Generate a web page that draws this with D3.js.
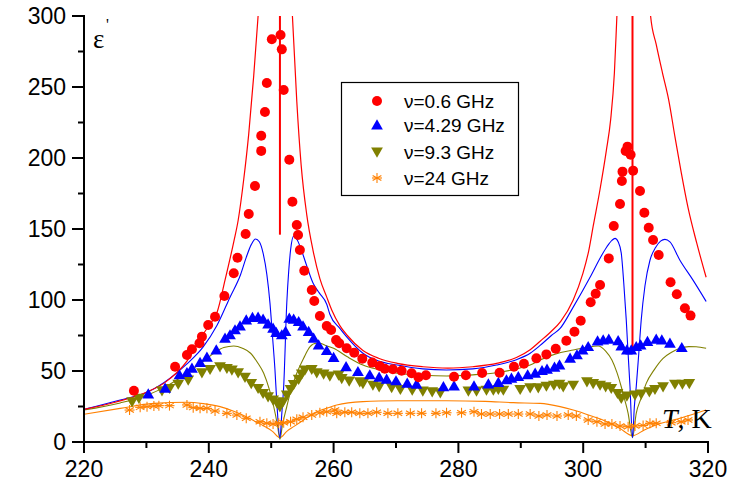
<!DOCTYPE html>
<html><head><meta charset="utf-8">
<script src="https://cdn.jsdelivr.net/npm/d3@7"></script>
<style>body{margin:0;background:#fff}svg{display:block}</style>
</head><body>
<script>
// ---- data ----
const xTicks = [220, 240, 260, 280, 300, 320];
const yTicks = [0, 50, 100, 150, 200, 250, 300];
const seriesNames = ["ν=0.6 GHz", "ν=4.29 GHz", "ν=9.3 GHz", "ν=24 GHz"];

const red06 = [[228.0,36.1],[234.6,53],[236.5,61.3],[237.3,65.3],[238.5,69.5],[238.9,74.2],[239.9,82.4],[241.0,88.2],[242.5,102.8],[244.0,118.8],[244.6,129.8],[245.9,146.5],[246.4,160.6],[247.4,180.3],[248.4,205],[248.4,215.7],[249.0,232.4],[249.3,252.8],[250.1,283.6],[251.5,286.6],[251.7,276.5],[252.0,247.9],[252.9,198.8],[253.4,169.2],[254.1,152.8],[254.3,145.8],[254.6,135.2],[255.3,120.6],[256.5,107],[256.9,99.3],[257.8,88.7],[258.9,81.7],[259.6,78.9],[260.4,71.8],[260.9,69.5],[262.1,66],[263.3,62.9],[264.6,58.7],[266.2,55.9],[267.4,53.5],[268.2,51.6],[269.5,51.2],[270.9,50.2],[272.5,48.4],[273.6,45.6],[274.8,47],[279.3,46],[281.2,47],[283.8,48.6],[286.6,48.8],[288.9,53],[290.5,55.1],[292.5,58.9],[294.1,61.7],[295.6,65.7],[297.3,71.3],[298.6,77.7],[299.6,85.4],[301.2,98.4],[302.0,104.4],[302.7,110.6],[304.1,129.3],[304.9,152.1],[305.9,167.6],[306.2,183.8],[306.3,190.4],[306.8,204.9],[307.1,208],[307.6,202.3],[308.0,191.1],[309.1,176.8],[309.8,161.5],[310.5,150.9],[311.2,142.3],[312.1,131.7],[314.0,112.5],[315.0,104],[316.3,94.2],[317.2,89]];

const blue429 = [[230.3,33.8],[233.0,37.8],[235.3,47.2],[236.5,48.8],[237.3,51.9],[238.6,55.9],[239.7,59.6],[241.2,64.8],[242.6,73],[243.4,75.4],[244.2,78.9],[245.0,81.7],[246.0,85.9],[247.0,87.6],[247.9,87.8],[248.7,86.4],[249.5,83.1],[250.3,80],[250.8,77],[251.7,75.4],[252.3,77.7],[252.9,87.1],[253.6,86.4],[254.4,84.7],[255.1,81.7],[256.0,77.7],[256.8,73],[257.6,68.3],[258.9,64.3],[260.0,59.5],[262.0,53],[263.9,49.5],[265.8,47.2],[267.3,45.6],[268.5,44.2],[270.0,43],[271.8,41.3],[273.3,40.6],[277.6,38.9],[279.3,39.4],[282.5,39.4],[284.8,40.8],[286.4,41.8],[287.7,43.7],[288.5,44.8],[289.6,46],[291.1,47.2],[292.3,48.4],[293.4,50.2],[294.2,51.2],[295.4,52.6],[296.2,54.2],[297.9,58.9],[299.0,61.3],[299.9,64.8],[300.8,67.1],[302.3,71.1],[303.2,71.8],[304.1,72.3],[305.6,71.3],[306.1,67.6],[307.0,64.8],[307.7,64.8],[308.5,67.1],[309.2,68.3],[310.3,70.7],[311.7,72.3],[312.6,71.8],[313.9,69.5],[315.8,66.4]];

const olive93 = [[227.7,28.4],[228.8,30.8],[232.5,36.1],[233.7,37.8],[235.1,40.8],[236.7,43.7],[238.9,48.8],[240.2,51.2],[241.8,53],[242.9,51.9],[243.7,50.7],[244.7,48.8],[245.8,45.6],[246.8,41.3],[247.9,37.8],[248.7,34.3],[249.5,31.9],[250.3,29.6],[250.9,27.7],[251.4,24.9],[251.9,28.4],[252.5,33.1],[253.1,37.1],[253.6,40.6],[254.4,44.2],[254.9,47.9],[255.4,50.7],[256.5,51.2],[257.3,48.8],[258.4,47.9],[259.4,46.5],[260.8,47.2],[261.3,44.8],[262.5,43],[264.2,42.5],[264.7,41.3],[266.3,40.1],[267.3,38.9],[269.3,38.5],[270.7,37.1],[272.6,36.6],[274.3,35.9],[275.8,35.4],[277.1,34.7],[281.6,35.9],[282.9,35.9],[284.5,36.6],[285.6,36.6],[286.4,37.1],[287.2,36.6],[289.9,37.1],[291.5,38.2],[292.8,38.2],[294.1,39.4],[295.3,40.1],[296.2,40.8],[296.8,38.9],[298.4,40.1],[300.6,42.5],[301.6,41.3],[302.7,40.1],[303.6,38.9],[304.5,37.8],[305.5,34.3],[306.1,30.8],[307.0,32.4],[308.3,33.1],[309.3,33.8],[310.6,35.4],[311.5,37.1],[312.8,38.9],[314.7,40.8],[315.9,40.8],[317.0,41.3]];

const orange24 = [[227.3,22.5],[229.0,24.4],[230.1,24.9],[231.2,25.4],[232.0,25.6],[233.7,25.6],[236.5,26.1],[237.5,24.2],[238.6,23.7],[239.7,23.7],[241.0,21.8],[242.9,20.2],[244.5,19],[246.0,16.7],[248.2,14.3],[249.3,13.2],[250.3,12.7],[251.2,13.2],[252.0,13.6],[253.1,14.3],[254.1,16],[255.1,17.4],[256.5,19],[257.8,20.6],[258.9,21.3],[260.2,22.5],[260.5,20.2],[261.8,20.9],[262.9,20.9],[264.2,20.2],[265.5,20.2],[266.9,20.9],[268.7,20.2],[270.3,20.2],[272.3,20.2],[274.1,20.2],[276.4,20.2],[278.1,20.6],[280.5,20.6],[282.5,21.3],[283.7,19.7],[285.1,19.7],[286.6,19.7],[288.0,19.7],[289.6,19.7],[291.5,19.7],[292.9,18.3],[294.2,19],[295.8,18.3],[297.6,19],[298.9,18.3],[300.8,15.5],[302.2,14.3],[303.5,12.7],[304.6,12.7],[305.9,11.3],[307.2,10.8],[308.3,11.3],[309.6,11.7],[310.7,13.2],[311.7,13.2],[314.1,13.6],[315.7,14.3],[316.8,15.5]];

// theory curves
const redFitLeft = [[220,23],[225,28],[230,35],[233,42],[236.5,57],[239.1,76],[240.2,83],[241.3,91],[242.6,114],[244.0,141],[244.7,156],[245.6,185],[246.4,217],[247.2,258],[247.9,300],[248.2,320]];
const redFitMid = [[253.2,320],[253.4,300],[254.1,240],[254.8,195],[255.7,160],[256.7,135],[257.8,115],[258.9,102],[259.7,93],[261.0,82],[262.2,75],[264.7,64.5],[267.2,59],[270.2,55.4],[274.3,53],[278.3,52],[282.3,53],[286.3,55.5],[289.3,59.5],[291.5,65],[293.1,71],[294.9,78],[296.4,85],[298.4,100],[299.9,118],[300.9,135],[301.6,152],[302.7,178],[303.7,205],[304.4,227],[305.0,260],[305.4,300],[305.6,320]];
const redFitRight = [[310.6,320],[310.8,300],[311.7,280],[312.7,260],[313.7,241],[314.7,215],[315.7,190],[316.8,165],[318.2,140],[319.7,116]];
const redVerticals = [[251.4,146,300],[307.9,65,300]];
const blueFit = [[220,23],[225.8,29.6],[230.1,35],[233.8,45],[236.5,55],[239.1,67],[241.3,82],[243.4,102],[245.1,118],[246.0,130],[246.8,139],[247.5,143],[248.1,141],[248.7,133],[249.3,118],[249.8,98],[250.2,75],[250.6,51],[250.9,28],[251.4,3],[251.7,20],[252.0,39],[252.5,98],[252.8,120],[253.1,135],[253.6,145],[254.2,142],[254.6,138],[255.7,124],[256.7,112],[257.7,105],[258.9,97],[259.4,90],[261.0,80],[262.1,74],[264.7,62.5],[267.2,57],[270.2,54.2],[274.3,51.5],[278.1,50.7],[282.3,51.5],[286.1,54.2],[289.3,58],[291.5,62.5],[293.1,68],[294.9,75],[296.3,80],[298.4,95],[301.1,116],[302.9,131],[303.8,137.5],[304.6,142],[305.1,143.4],[305.6,141],[306.1,133],[306.5,112],[306.9,86],[307.2,62],[307.5,39],[307.9,3],[308.2,25],[308.5,39],[308.9,62],[309.3,86],[309.9,110],[310.7,128],[311.6,137],[312.4,141.5],[313.1,142.7],[313.9,141],[315.5,128],[317.6,114],[319.7,99]];
const oliveFit = [[220,22.5],[225.8,27.5],[230.1,33],[233.1,39],[236.5,48.4],[238.6,55],[240.8,62.5],[242.4,66.5],[244.0,67.6],[245.4,66],[246.7,62.5],[247.8,56],[248.8,48.4],[249.7,37],[250.4,25],[251.0,12],[251.4,2],[251.8,12],[252.5,25],[253.2,37],[254.1,48.4],[255.2,59],[256.2,67],[257.2,69.5],[257.8,69.5],[258.7,68],[260.0,66],[262.2,60],[264.7,54.2],[267.2,51],[270.2,48.4],[274.3,47],[278.1,46.5],[282.3,47.3],[286.1,48.8],[289.3,51.5],[291.5,54.2],[293.1,57.7],[294.9,61],[296.4,63],[298.4,64.8],[300.4,66.5],[302.4,67.6],[303.6,64],[304.6,57.7],[305.4,49],[306.1,38.9],[306.7,29],[307.2,20.2],[307.9,3],[308.5,20.2],[309.3,31],[310.1,41.3],[311.4,51],[312.8,58.9],[314.1,63],[315.5,66],[316.9,67.2],[318.1,67.1],[319.7,66]];
const orangeFit = [[220,19.5],[225.8,23.7],[231.2,27.2],[236.5,28],[239.1,27],[241.8,24.9],[244.1,21.5],[246.0,17.8],[247.4,14.5],[248.8,11.3],[250.2,7.5],[251.4,3],[252.5,7.5],[253.6,10.8],[255.2,15.5],[256.8,20.2],[258.7,23.5],[260.5,26.1],[264.7,28.4],[270.2,29],[278.1,29.1],[284.3,28.6],[288.8,27.7],[293.1,27.2],[296.3,24.9],[298.4,22.5],[301.2,18.5],[303.8,14.3],[305.9,9.5],[307.9,4.5],[309.8,8.5],[311.7,12],[313.6,14.5],[315.5,16.7],[317.6,19.5],[319.7,22.5]];

// ---- drawing ----
const W = 738, H = 490;
const C = {red:"#ff0000", blue:"#0000ff", olive:"#808000", orange:"#ff8000"};
const x = d3.scaleLinear().domain([220,320]).range([84,708]);
const y = d3.scaleLinear().domain([0,300]).range([442,16]);

const svg = d3.select("body").append("svg").attr("width",W).attr("height",H);
svg.append("defs").append("clipPath").attr("id","clip")
  .append("rect").attr("x",84).attr("y",16).attr("width",630).attr("height",426);

const plot = svg.append("g").attr("clip-path","url(#clip)");
const line = d3.line().x(d=>x(d[0])).y(d=>y(d[1])).curve(d3.curveMonotoneX);

function fit(data,color,w){
  plot.append("path").datum(data).attr("d",line).attr("fill","none")
    .attr("stroke",color).attr("stroke-width",w);
}
fit(orangeFit,C.orange,1.1);
fit(oliveFit,C.olive,1.1);
fit(blueFit,C.blue,1.1);
fit(redFitLeft,C.red,1.2);
fit(redFitMid,C.red,1.2);
fit(redFitRight,C.red,1.2);
plot.selectAll("line.vert").data(redVerticals).join("line").attr("class","vert")
  .attr("x1",d=>x(d[0])).attr("x2",d=>x(d[0])).attr("y1",d=>y(d[1])).attr("y2",d=>y(d[2]))
  .attr("stroke",C.red).attr("stroke-width",2);

const triUp = d3.symbol().type(d3.symbolTriangle).size(60)();
function asterisk(g,r,color){
  const a = [[0,-r,0,r],[-r*0.87,-r*0.5,r*0.87,r*0.5],[-r*0.87,r*0.5,r*0.87,-r*0.5],[-r,0,r,0]];
  a.forEach(s=>g.append("line").attr("x1",s[0]).attr("y1",s[1]).attr("x2",s[2]).attr("y2",s[3])
    .attr("stroke",color).attr("stroke-width",1.1));
}
function drawAst(data){
  const gs = svg.append("g").selectAll("g").data(data).join("g")
    .attr("transform",d=>`translate(${x(d[0])},${y(d[1])})`);
  gs.each(function(){ asterisk(d3.select(this),5,C.orange); });
}
drawAst(orange24);
svg.append("g").selectAll("path").data(olive93).join("path").attr("d",triUp)
  .attr("transform",d=>`translate(${x(d[0])},${y(d[1])-1}) rotate(180)`).attr("fill",C.olive);
svg.append("g").selectAll("path").data(blue429).join("path").attr("d",triUp)
  .attr("transform",d=>`translate(${x(d[0])},${y(d[1])+1})`).attr("fill",C.blue);
svg.append("g").selectAll("circle").data(red06).join("circle")
  .attr("cx",d=>x(d[0])).attr("cy",d=>y(d[1])).attr("r",5).attr("fill",C.red);

// axes
const ax = svg.append("g").attr("stroke","#000").attr("stroke-width",2);
ax.append("line").attr("x1",84).attr("x2",x(320)+1).attr("y1",442).attr("y2",442);
ax.append("line").attr("x1",84).attr("x2",84).attr("y1",y(300)-1).attr("y2",443);
const xMinor = d3.range(230,320,20);
ax.selectAll("line.xt").data(xTicks).join("line").attr("class","xt")
  .attr("x1",d=>x(d)).attr("x2",d=>x(d)).attr("y1",442).attr("y2",453);
ax.selectAll("line.xm").data(xMinor).join("line").attr("class","xm")
  .attr("x1",d=>x(d)).attr("x2",d=>x(d)).attr("y1",442).attr("y2",448);
const yMinor = d3.range(25,300,50);
ax.selectAll("line.yt").data(yTicks).join("line").attr("class","yt")
  .attr("x1",72).attr("x2",84).attr("y1",d=>y(d)).attr("y2",d=>y(d));
ax.selectAll("line.ym").data(yMinor).join("line").attr("class","ym")
  .attr("x1",78).attr("x2",84).attr("y1",d=>y(d)).attr("y2",d=>y(d));

const font = "'Liberation Sans', Arial, sans-serif";
svg.append("g").selectAll("text").data(xTicks).join("text")
  .attr("x",d=>x(d)).attr("y",477).attr("text-anchor","middle")
  .attr("font-family",font).attr("font-size",23).text(d=>d);
svg.append("g").selectAll("text").data(yTicks).join("text")
  .attr("x",66).attr("y",d=>y(d)+8).attr("text-anchor","end")
  .attr("font-family",font).attr("font-size",23).text(d=>d);

// axis titles
const serif = "'Liberation Serif','Times New Roman',serif";
svg.append("text").attr("x",93).attr("y",48).attr("font-family",serif).attr("font-size",27).text("ε");
svg.append("text").attr("x",106).attr("y",30).attr("font-family",serif).attr("font-size",16).text("'");
const tk = svg.append("text").attr("x",662).attr("y",428).attr("font-family",serif).attr("font-size",28);
tk.append("tspan").attr("font-style","italic").text("T");
tk.append("tspan").text(", K");

// legend
const lg = svg.append("g");
lg.append("rect").attr("x",341.5).attr("y",82.5).attr("width",177).attr("height",113)
  .attr("fill","#fff").attr("stroke","#000").attr("stroke-width",1.2);
const ly = [101,125,152,178];
lg.append("circle").attr("cx",377).attr("cy",ly[0]).attr("r",5).attr("fill",C.red);
lg.append("path").attr("d",triUp).attr("transform",`translate(377,${ly[1]+1})`).attr("fill",C.blue);
lg.append("path").attr("d",triUp).attr("transform",`translate(377,${ly[2]-1}) rotate(180)`).attr("fill",C.olive);
asterisk(lg.append("g").attr("transform",`translate(377,${ly[3]})`),5,C.orange);
lg.selectAll("text").data(seriesNames).join("text")
  .attr("x",404).attr("y",(d,i)=>ly[i]+7).attr("font-family",font).attr("font-size",19).text(d=>d);
</script>
</body></html>
